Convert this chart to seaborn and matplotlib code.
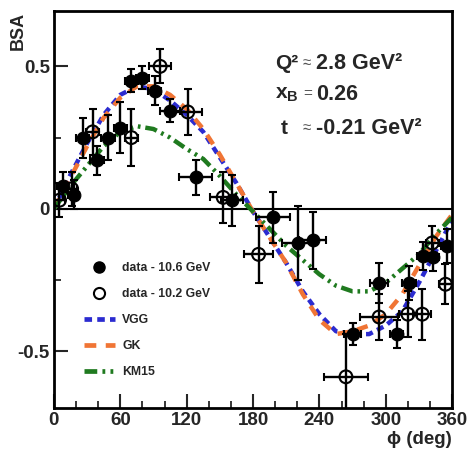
import numpy as np
import pandas as pd
import matplotlib
matplotlib.use("Agg")
import matplotlib.pyplot as plt
from matplotlib.lines import Line2D
from matplotlib.ticker import MultipleLocator, FuncFormatter
import seaborn as sns

# ---- data ----
phi_106 = [8, 18, 26, 39, 49, 60, 70, 80, 91, 105, 128, 161, 198, 221, 234, 270, 294, 310, 321, 334, 343, 355]
bsa_106 = [0.08, 0.05, 0.25, 0.17, 0.25, 0.285, 0.45, 0.46, 0.415, 0.345, 0.11, 0.03, -0.03, -0.12, -0.11,
           -0.44, -0.26, -0.44, -0.26, -0.165, -0.17, -0.13]
yerr_106 = [0.05, 0.05, 0.07, 0.05, 0.08, 0.09, 0.04, 0.04, 0.05, 0.04, 0.06, 0.09, 0.09, 0.13, 0.10,
            0.04, 0.07, 0.05, 0.06, 0.05, 0.05, 0.06]
xerr_106 = [5, 5, 6, 6, 6, 6, 6, 6, 6, 9, 15, 10, 15, 15, 12, 8, 8, 6, 6, 6, 5, 5]

phi_102 = [5, 16, 35, 70, 96, 121, 153, 185, 264, 294, 320, 333, 342, 354]
bsa_102 = [0.03, 0.07, 0.27, 0.25, 0.50, 0.34, 0.04, -0.16, -0.59, -0.38, -0.37, -0.37, -0.12, -0.265]
yerr_102 = [0.06, 0.06, 0.08, 0.10, 0.06, 0.08, 0.09, 0.10, 0.15, 0.08, 0.08, 0.09, 0.06, 0.07]
xerr_102 = [5, 5, 6, 6, 10, 13, 12, 13, 20, 17, 8, 8, 6, 6]

phi_model = [0, 15, 30, 45, 60, 75, 90, 105, 120, 135, 150, 165, 180,
             195, 210, 225, 240, 255, 270, 285, 300, 315, 330, 345, 360]
vgg = [0.0, 0.12, 0.23, 0.33, 0.40, 0.43, 0.42, 0.38, 0.33, 0.27, 0.18, 0.09, -0.01,
       -0.10, -0.19, -0.29, -0.37, -0.43, -0.44, -0.44, -0.41, -0.36, -0.26, -0.15, -0.04]
gk = [0.0, 0.11, 0.22, 0.32, 0.39, 0.43, 0.43, 0.40, 0.35, 0.28, 0.19, 0.09, -0.01,
      -0.10, -0.19, -0.30, -0.39, -0.44, -0.43, -0.41, -0.37, -0.30, -0.20, -0.10, -0.02]
km15 = [0.0, 0.08, 0.15, 0.22, 0.27, 0.29, 0.28, 0.25, 0.21, 0.175, 0.115, 0.05, -0.01,
        -0.07, -0.13, -0.18, -0.23, -0.27, -0.29, -0.29, -0.26, -0.21, -0.16, -0.09, -0.03]

legend_labels = ['data - 10.6 GeV', 'data - 10.2 GeV', 'VGG', 'GK', 'KM15']

# ---- style ----
sns.set_theme(style="ticks")
plt.rcParams['font.family'] = ['Liberation Sans', 'DejaVu Sans']
plt.rcParams['font.weight'] = 'bold'
plt.rcParams['axes.unicode_minus'] = False
plt.rcParams['mathtext.fontset'] = 'custom'
plt.rcParams['mathtext.rm'] = 'Liberation Sans:bold'
plt.rcParams['mathtext.bf'] = 'Liberation Sans:bold'

c_vgg = '#2b2bd0'
c_gk = '#f07535'
c_km = '#1f7a1f'
ls_vgg = (0, (1.6, 1.1))
ls_gk = (0, (2.5, 2.0))
ls_km = (0, (2.7, 1.1, 0.6, 1.1, 0.6, 1.1))

fig = plt.figure(figsize=(4.69, 4.51), dpi=100)
ax = fig.add_axes([0.115, 0.095, 0.849, 0.881])

# model curves
sns.lineplot(x=phi_model, y=vgg, ax=ax, color=c_vgg, lw=3.2, linestyle=ls_vgg, zorder=2, legend=False)
sns.lineplot(x=phi_model, y=gk, ax=ax, color=c_gk, lw=3.2, linestyle=ls_gk, zorder=2, legend=False)
sns.lineplot(x=phi_model, y=km15, ax=ax, color=c_km, lw=3.2, linestyle=ls_km, zorder=2, legend=False)

ax.axhline(0, color='black', lw=1.5, zorder=1)

# data points
ax.errorbar(phi_106, bsa_106, yerr=yerr_106, xerr=xerr_106, fmt='none', ecolor='black',
            elinewidth=1.7, capsize=3, capthick=1.5, zorder=3)
ax.errorbar(phi_102, bsa_102, yerr=yerr_102, xerr=xerr_102, fmt='none', ecolor='black',
            elinewidth=1.7, capsize=3, capthick=1.5, zorder=3)
sns.scatterplot(x=phi_106, y=bsa_106, ax=ax, s=85, color='black', edgecolor='black', zorder=4)
sns.scatterplot(x=phi_102, y=bsa_102, ax=ax, s=85, facecolors='none', edgecolor='black',
                linewidth=1.5, zorder=4)

ax.set_xlim(0, 360)
ax.set_ylim(-0.7, 0.695)
ax.xaxis.set_major_locator(MultipleLocator(60))
ax.xaxis.set_minor_locator(MultipleLocator(20))
ax.yaxis.set_major_locator(MultipleLocator(0.5))
ax.yaxis.set_minor_locator(MultipleLocator(0.25))
ax.yaxis.set_major_formatter(FuncFormatter(lambda v, p: f"{v:g}"))
ax.tick_params(which='major', direction='in', length=10, width=1.5, labelsize=13.5, pad=3)
ax.tick_params(which='minor', direction='in', length=5, width=1.3)
for lab in ax.get_xticklabels() + ax.get_yticklabels():
    lab.set_fontweight('bold')
for sp in ax.spines.values():
    sp.set_linewidth(2)
    sp.set_color('black')
ax.set_xlabel('')
ax.set_ylabel('')

fig.text(18 / 469, 1 - 12 / 451, 'BSA', rotation=90, ha='center', va='top', fontsize=13, fontweight='bold')
fig.text(452 / 469, 1 - 440 / 451, 'ϕ (deg)', ha='right', va='center', fontsize=13.5, fontweight='bold')

# kinematics
kx1, kxs, kx2 = 0.555, 0.625, 0.658
rows = [(0.868, 'Q²', '≈', '2.8 GeV²'),
        (0.790, r'x$_{\mathbf{B}}$', '=', '0.26'),
        (0.705, 't', '≈', '-0.21 GeV²')]
for y, lab, sign, val in rows:
    xl = kx1 + (0.014 if lab == 't' else 0)
    ax.text(xl, y, lab, transform=ax.transAxes, fontsize=15, fontweight='bold', va='center')
    ax.text(kxs, y, sign, transform=ax.transAxes, fontsize=11, fontweight='normal',
            color='#555555', va='center')
    ax.text(kx2, y, val, transform=ax.transAxes, fontsize=15.5, fontweight='bold', va='center')

handles = [
    Line2D([], [], marker='o', ls='none', color='black', markersize=8),
    Line2D([], [], marker='o', ls='none', markerfacecolor='none', markeredgecolor='black',
           markeredgewidth=1.5, markersize=8),
    Line2D([], [], color=c_vgg, lw=3.4, ls=ls_vgg),
    Line2D([], [], color=c_gk, lw=3.4, ls=ls_gk),
    Line2D([], [], color=c_km, lw=3.4, ls=ls_km),
]
ax.legend(handles, legend_labels, loc='upper left', bbox_to_anchor=(0.062, 0.38), frameon=False,
          prop={'size': 8.8, 'weight': 'bold'}, handlelength=2.6, handletextpad=0.55,
          labelspacing=1.15, borderaxespad=0)

fig.savefig('out.png', dpi=100)
